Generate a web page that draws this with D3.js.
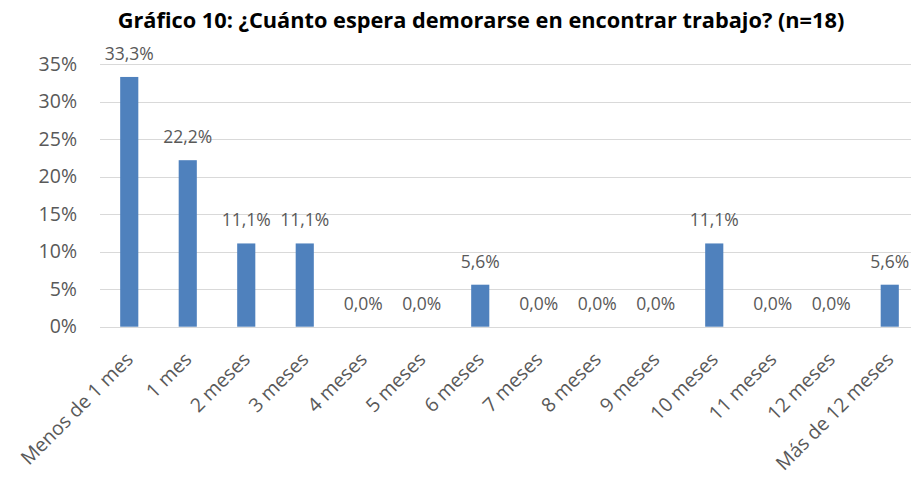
<!DOCTYPE html>
<html>
<head>
<meta charset="utf-8">
<script src="https://cdn.jsdelivr.net/npm/d3@7"></script>
<style>
  html, body { margin: 0; padding: 0; background: #fff; }
  svg { display: block; }
</style>
</head>
<body>
<svg id="chart" width="911" height="477"></svg>
<script>
const title = "Gráfico 10: ¿Cuánto espera demorarse en encontrar trabajo? (n=18)";
const categories = ["Menos de 1 mes", "1 mes", "2 meses", "3 meses", "4 meses", "5 meses", "6 meses", "7 meses", "8 meses", "9 meses", "10 meses", "11 meses", "12 meses", "Más de 12 meses"];
const values = [0.333, 0.222, 0.111, 0.111, 0, 0, 0.056, 0, 0, 0, 0.111, 0, 0, 0.056];
const yTicks = [0, 0.05, 0.10, 0.15, 0.20, 0.25, 0.30, 0.35];

const svg = d3.select("#chart");
const W = 911, H = 477;
const margin = { left: 100, right: -8, top: 64.2, bottom: 150.3 };
const font = "'Open Sans', 'Noto Sans', sans-serif";
const textColor = "#595959";

const x = d3.scaleBand()
  .domain(categories)
  .range([margin.left, W - margin.right])
  .paddingInner(0.69)
  .paddingOuter(0.345);

const y = d3.scaleLinear()
  .domain([0, 0.35])
  .range([H - margin.bottom, margin.top]);

const fmtTick = v => d3.format(".0f")(v * 100) + "%";
const fmtLabel = v => d3.format(".1f")(v * 100).replace(".", ",") + "%";

// Gridlines
svg.append("g").selectAll("line")
  .data(yTicks)
  .join("line")
  .attr("x1", margin.left)
  .attr("x2", W - margin.right)
  .attr("y1", d => Math.round(y(d)) + 0.5)
  .attr("y2", d => Math.round(y(d)) + 0.5)
  .attr("stroke", "#D9D9D9")
  .attr("stroke-width", 1);

// Y axis labels
const yAxis = d3.axisLeft(y).tickValues(yTicks).tickFormat(fmtTick).tickSize(0).tickPadding(0);
const gy = svg.append("g").attr("transform", "translate(77,0)").call(yAxis);
gy.select(".domain").remove();
gy.selectAll("text")
  .attr("font-family", font)
  .attr("font-size", 19.5)
  .attr("fill", textColor);

// Bars
svg.append("g").selectAll("rect")
  .data(values)
  .join("rect")
  .attr("x", (d, i) => x(categories[i]))
  .attr("width", x.bandwidth())
  .attr("y", d => y(d))
  .attr("height", d => y(0) - y(d))
  .attr("fill", "#4F81BD");

// Data labels
svg.append("g").selectAll("text")
  .data(values)
  .join("text")
  .attr("x", (d, i) => x(categories[i]) + x.bandwidth() / 2)
  .attr("y", d => y(d) - 17)
  .attr("text-anchor", "middle")
  .attr("font-family", font)
  .attr("font-size", 17.5)
  .attr("fill", textColor)
  .text(d => fmtLabel(d));

// X axis labels (rotated)
const xAxis = d3.axisBottom(x).tickSize(0).tickPadding(0);
const gx = svg.append("g").attr("transform", `translate(0,${y(0)})`).call(xAxis);
gx.select(".domain").remove();
gx.selectAll(".tick text")
  .attr("font-family", font)
  .attr("font-size", 19.5)
  .attr("fill", textColor)
  .attr("text-anchor", "end")
  .attr("dy", null)
  .attr("y", 0)
  .attr("transform", "translate(5,34) rotate(-45)");

// Title
const t = svg.append("text")
  .attr("x", 481)
  .attr("y", 28)
  .attr("text-anchor", "middle")
  .attr("font-family", font)
  .attr("font-weight", "bold")
  .attr("font-size", 20)
  .attr("fill", "#000")
  .text(title);
const tw = t.node().getComputedTextLength();
t.attr("font-size", 20 * 727 / tw);
</script>
</body>
</html>
